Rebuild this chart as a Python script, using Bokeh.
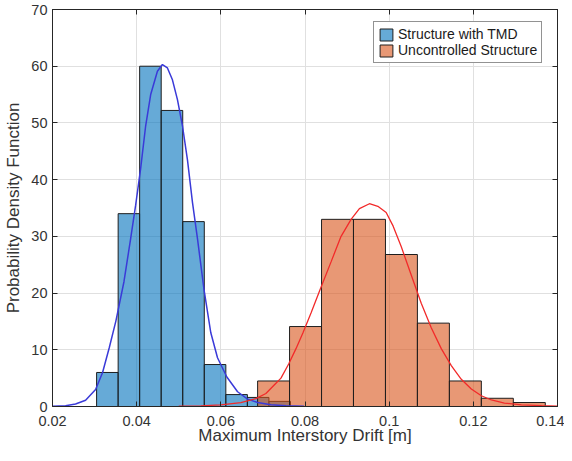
from bokeh.plotting import figure
from bokeh.models import (ColumnDataSource, LinearAxis, FixedTicker, CustomJSTickFormatter,
                          Legend, LegendItem, Range1d)
from bokeh.embed import file_html
from bokeh.resources import INLINE

# ---- data ----
x_ticks = [0.02, 0.04, 0.06, 0.08, 0.1, 0.12, 0.14]
y_ticks = [0, 10, 20, 30, 40, 50, 60, 70]

tmd_edges = [0.03048, 0.03560, 0.04071, 0.04583, 0.05095, 0.05607, 0.06119, 0.06631, 0.07143, 0.07655]
tmd_density = [6.0, 34.0, 60.0, 52.2, 32.6, 7.4, 2.1, 1.6, 0.9]

unc_edges = [0.06874, 0.07633, 0.08393, 0.09152, 0.09912, 0.10671, 0.11431, 0.12190, 0.12950, 0.13710]
unc_density = [4.5, 14.1, 33.0, 33.0, 26.8, 14.7, 4.5, 1.45, 0.7]

tmd_fit_x = [0.0200, 0.02310, 0.02548, 0.02786, 0.03024, 0.03190, 0.03350, 0.03507, 0.03698,
             0.03857, 0.03976, 0.04095, 0.04214, 0.04333, 0.04493, 0.04612, 0.04731, 0.04850,
             0.04969, 0.05088, 0.05207, 0.05326, 0.05445, 0.05602, 0.05762, 0.05921, 0.06143,
             0.06398, 0.06636, 0.06874, 0.07190, 0.07548, 0.07976]
tmd_fit_y = [0.05, 0.15, 0.45, 1.1, 3.0, 6.0, 10.4, 15.1, 22.0,
             29.6, 35.5, 42.0, 49.5, 55.0, 59.1, 60.3, 59.7, 57.6,
             54.1, 49.5, 43.5, 36.0, 29.6, 20.5, 13.0, 8.6, 5.2,
             2.6, 1.3, 0.7, 0.3, 0.12, 0.05]

unc_fit_x = [0.0500, 0.05524, 0.0600, 0.06476, 0.06833, 0.07071, 0.07269, 0.07429, 0.07612,
             0.07786, 0.07952, 0.08143, 0.08357, 0.08619, 0.08857, 0.09095, 0.09293, 0.09531,
             0.09731, 0.09929, 0.10095, 0.10286, 0.10524, 0.10762, 0.1100, 0.11238, 0.11476,
             0.11714, 0.11952, 0.1219, 0.12429, 0.12738, 0.13143, 0.13619, 0.1400]
unc_fit_y = [0.05, 0.12, 0.3, 0.7, 1.4, 2.3, 3.8, 5.0, 7.5,
             10.2, 13.0, 16.5, 20.6, 25.5, 30.0, 33.0, 34.9, 35.75,
             35.3, 34.2, 31.8, 28.2, 23.2, 18.2, 13.9, 10.2, 7.2,
             4.8, 3.1, 1.9, 1.15, 0.6, 0.3, 0.15, 0.08]

labels = ["Structure with TMD", "Uncontrolled Structure"]

FONT = "Liberation Sans"
AX = "#262626"
TXT = "#333333"

p = figure(width=564, height=453,
           x_range=Range1d(0.02, 0.14), y_range=Range1d(0, 70),
           output_backend="svg", toolbar_location=None,
           min_border_left=52, min_border_right=7, min_border_top=9, min_border_bottom=47)
p.background_fill_color = "white"
p.border_fill_color = "white"
p.outline_line_color = AX
p.outline_line_width = 1

fmt = CustomJSTickFormatter(code="return String(Math.round(tick*1000)/1000);")
blank = CustomJSTickFormatter(code="return '';")


def style(ax, ticks, labels_on=True):
    ax.ticker = FixedTicker(ticks=ticks)
    ax.major_tick_in = 5
    ax.major_tick_out = 0
    ax.minor_tick_in = 0
    ax.minor_tick_out = 0
    ax.axis_line_color = AX
    ax.major_tick_line_color = AX
    ax.major_label_text_font = FONT
    ax.major_label_text_font_size = "14.5px"
    ax.major_label_text_color = TXT
    if labels_on:
        ax.formatter = fmt
        ax.axis_label_text_font = FONT
        ax.axis_label_text_font_size = "17px"
        ax.axis_label_text_font_style = "normal"
        ax.axis_label_text_color = TXT
    else:
        ax.formatter = blank
        ax.major_label_standoff = 0


xa = p.xaxis[0]
style(xa, x_ticks)
xa.axis_label = "Maximum Interstory Drift [m]"
xa.major_label_standoff = 9
xa.axis_label_standoff = -3

ya = p.yaxis[0]
style(ya, y_ticks)
ya.axis_label = "Probability Density Function"
ya.major_label_standoff = 5
ya.axis_label_standoff = 5

top_ax = LinearAxis()
style(top_ax, x_ticks, labels_on=False)
p.add_layout(top_ax, "above")
right_ax = LinearAxis()
style(right_ax, y_ticks, labels_on=False)
p.add_layout(right_ax, "right")

p.xgrid.ticker = FixedTicker(ticks=x_ticks)
p.ygrid.ticker = FixedTicker(ticks=y_ticks)
p.xgrid.grid_line_color = "#e0e0e0"
p.ygrid.grid_line_color = "#e0e0e0"

src_tmd = ColumnDataSource(dict(left=tmd_edges[:-1], right=tmd_edges[1:], top=tmd_density))
src_unc = ColumnDataSource(dict(left=unc_edges[:-1], right=unc_edges[1:], top=unc_density))

r_tmd = p.quad(left="left", right="right", bottom=0, top="top", source=src_tmd,
               fill_color="#0072BD", fill_alpha=0.6, line_color="#1e1e1e", line_width=1)
r_unc = p.quad(left="left", right="right", bottom=0, top="top", source=src_unc,
               fill_color="#D95319", fill_alpha=0.6, line_color="#1e1e1e", line_width=1)

p.line(tmd_fit_x, tmd_fit_y, line_color="#3a3ad8", line_width=1.5)
p.line(unc_fit_x, unc_fit_y, line_color="#f22a2a", line_width=1.3)

legend = Legend(items=[LegendItem(label=labels[0], renderers=[r_tmd]),
                       LegendItem(label=labels[1], renderers=[r_unc])],
                location=(321, 343))
legend.label_text_font = FONT
legend.label_text_font_size = "14px"
legend.label_text_color = "#1a1a1a"
legend.glyph_width = 16
legend.glyph_height = 15
legend.label_standoff = 4
legend.padding = 4
legend.spacing = 0
legend.margin = 0
legend.border_line_color = AX
legend.border_line_width = 1
legend.background_fill_color = "white"
legend.background_fill_alpha = 1
p.add_layout(legend)

open("out.html", "w").write(file_html(p, INLINE))
